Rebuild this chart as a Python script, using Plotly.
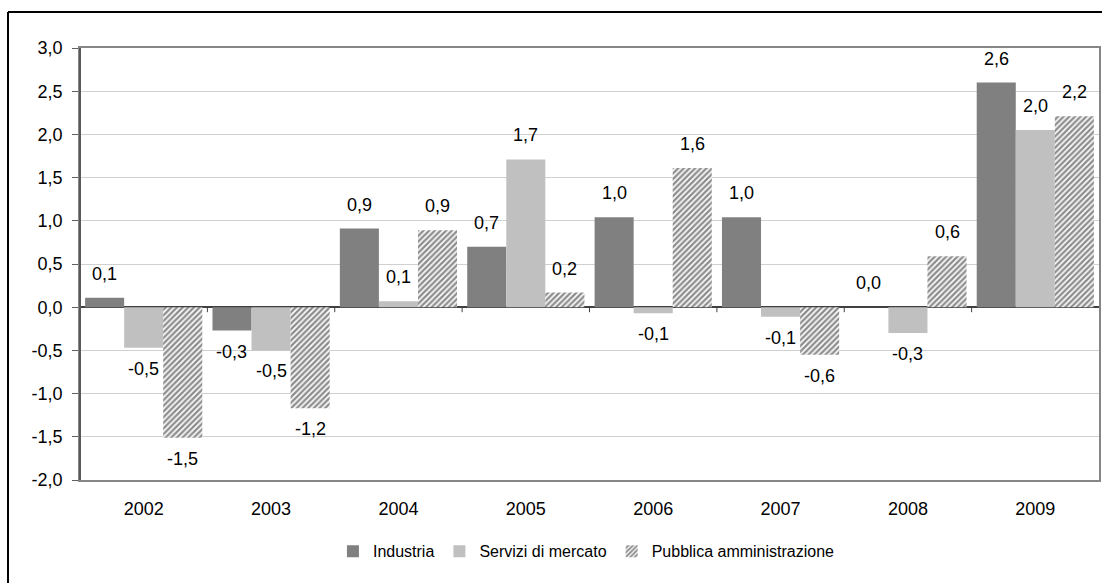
import plotly.graph_objects as go

years = ["2002", "2003", "2004", "2005", "2006", "2007", "2008", "2009"]
industria = [0.11, -0.27, 0.91, 0.70, 1.04, 1.04, 0.0, 2.60]
servizi = [-0.47, -0.50, 0.07, 1.71, -0.07, -0.11, -0.30, 2.05]
pubblica = [-1.51, -1.17, 0.89, 0.17, 1.61, -0.55, 0.59, 2.21]
series_names = ["Industria", "Servizi di mercato", "Pubblica amministrazione"]
y_ticks = [-2.0, -1.5, -1.0, -0.5, 0.0, 0.5, 1.0, 1.5, 2.0, 2.5, 3.0]

FONT = "Liberation Sans, Arial, sans-serif"
FS = 18
W, H = 1102, 583
L, R, T, B = 80, 3, 48, 103
pw = W - L - R
ph = H - T - B


def fmt(v):
    s = f"{v:.1f}".replace(".", ",")
    return "0,0" if s == "-0,0" else s


fig = go.Figure()
fig.add_trace(go.Bar(x=years, y=industria, name=series_names[0],
                     marker=dict(color="#808080", line=dict(width=0))))
fig.add_trace(go.Bar(x=years, y=servizi, name=series_names[1],
                     marker=dict(color="#c0c0c0", line=dict(width=0))))
fig.add_trace(go.Bar(x=years, y=pubblica, name=series_names[2],
                     marker=dict(color="white", line=dict(width=0),
                                 pattern=dict(shape="/", fgcolor="#1e1e1e",
                                              bgcolor="white", size=4,
                                              solidity=0.6))))

bargap = 0.08
cat_px = pw / len(years)
bar_px = cat_px * (1 - bargap) / 3
annotations = []
for si, vals in enumerate([industria, servizi, pubblica]):
    for ci, v in enumerate(vals):
        annotations.append(dict(
            x=ci, y=v, xref="x", yref="y",
            text=fmt(v),
            showarrow=False,
            xshift=(si - 1) * bar_px,
            yshift=24 if v >= 0 else -21,
            font=dict(family=FONT, size=FS, color="#000000"),
        ))

shapes = []
# category separator ticks on zero line
for i in range(len(years) - 1):
    shapes.append(dict(type="line", xref="x", yref="y", x0=i + 0.5, x1=i + 0.5,
                       ysizemode="pixel", yanchor=0, y0=0, y1=-5,
                       line=dict(color="#404040", width=1)))
# left axis line (darker than plot border)
shapes.append(dict(type="line", xref="paper", yref="paper", x0=0, x1=0, y0=0, y1=1,
                   line=dict(color="#595959", width=2)))
# outer frame (top and left)
px2x = lambda px: (px - L) / pw
py2y = lambda py: (H - B - py) / ph
shapes.append(dict(type="line", xref="paper", yref="paper",
                   x0=px2x(8), x1=px2x(W + 5), y0=py2y(12), y1=py2y(12),
                   line=dict(color="#000000", width=2)))
shapes.append(dict(type="line", xref="paper", yref="paper",
                   x0=px2x(8), x1=px2x(8), y0=py2y(12), y1=py2y(H + 5),
                   line=dict(color="#000000", width=2)))

fig.update_layout(
    width=W, height=H,
    margin=dict(l=L, r=R, t=T, b=B, autoexpand=False),
    paper_bgcolor="white", plot_bgcolor="white",
    barmode="group", bargap=bargap, bargroupgap=0,
    font=dict(family=FONT, size=FS, color="#000000"),
    showlegend=True,
    legend=dict(orientation="h", x=0.497, xanchor="center", y=-0.165,
                yanchor="middle", font=dict(family=FONT, size=16),
                itemwidth=30, tracegroupgap=0),
    annotations=annotations,
    shapes=shapes,
)
fig.update_yaxes(range=[-2, 3], tickmode="array", tickvals=y_ticks,
                 ticktext=[fmt(t) for t in y_ticks],
                 showgrid=True, gridcolor="#d0d0d0", gridwidth=1,
                 zeroline=True, zerolinecolor="#404040", zerolinewidth=1.5,
                 showline=True, linecolor="#868686", linewidth=1.5, mirror=True,
                 ticks="outside", ticklen=6, tickcolor="#606060",
                 ticklabelstandoff=6,
                 tickfont=dict(family=FONT, size=FS))
fig.update_xaxes(type="category", range=[-0.5, len(years) - 0.5],
                 showline=True, linecolor="#868686",
                 linewidth=1.5, mirror=True,
                 ticks="", tickfont=dict(family=FONT, size=FS), ticklabelstandoff=12)

fig.write_html("out.html", config={"displayModeBar": False},
               post_script="document.body.style.margin='0';document.body.style.overflow='hidden';")
